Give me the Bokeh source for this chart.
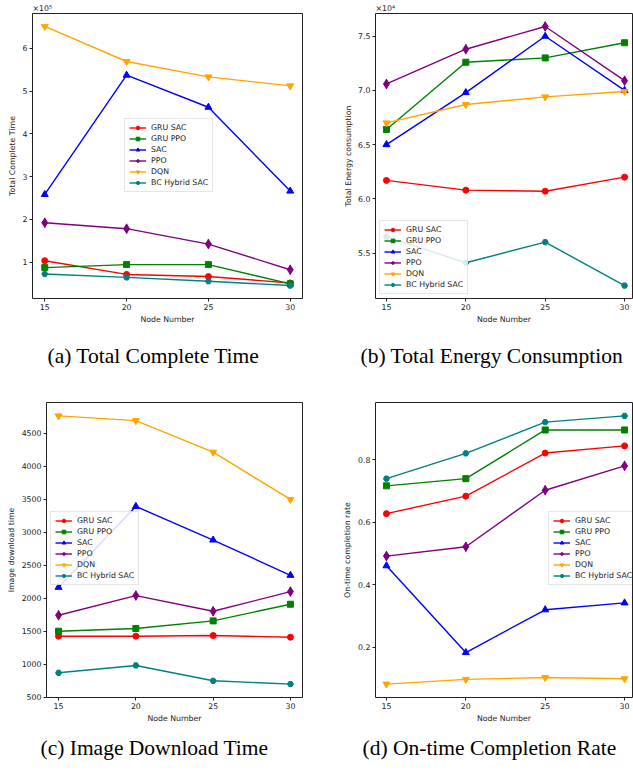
import math
from bokeh.plotting import figure
from bokeh.layouts import column, row
from bokeh.models import Range1d, FixedTicker, CustomJSTickFormatter, Legend, LegendItem, Title
from bokeh.embed import file_html
from bokeh.resources import INLINE

# ---------------- data ----------------
node_numbers = [15, 20, 25, 30]
x_tick_values = [15, 20, 25, 30]
series_names = ["GRU SAC", "GRU PPO", "SAC", "PPO", "DQN", "BC Hybrid SAC"]

# (a) Total Complete Time
complete_gru_sac = [103000, 71000, 66000, 51000]
complete_gru_ppo = [87000, 94000, 94000, 49000]
complete_sac = [258000, 537000, 462000, 266000]
complete_ppo = [192000, 178000, 142000, 82000]
complete_dqn = [651000, 569000, 533000, 512000]
complete_bc_hybrid_sac = [72000, 64000, 55000, 45000]
complete_y_ticks = [100000, 200000, 300000, 400000, 500000, 600000]

# (b) Total Energy Consumption
energy_gru_sac = [61700, 60800, 60700, 62000]
energy_gru_ppo = [66400, 72600, 73000, 74400]
energy_sac = [65000, 69800, 75000, 70000]
energy_ppo = [70600, 73800, 75900, 70900]
energy_dqn = [67000, 68700, 69400, 69900]
energy_bc_hybrid_sac = [56500, 54100, 56000, 52000]
energy_y_ticks = [55000, 60000, 65000, 70000, 75000]

# (c) Image Download Time
download_gru_sac = [1427, 1427, 1437, 1412]
download_gru_ppo = [1503, 1543, 1659, 1911]
download_sac = [2167, 3392, 2883, 2349]
download_ppo = [1744, 2042, 1805, 2102]
download_dqn = [4762, 4691, 4213, 3497]
download_bc_hybrid_sac = [873, 984, 752, 702]
download_y_ticks = [500, 1000, 1500, 2000, 2500, 3000, 3500, 4000, 4500]

# (d) On-time Completion Rate
ontime_gru_sac = [0.628, 0.684, 0.822, 0.845]
ontime_gru_ppo = [0.717, 0.740, 0.896, 0.896]
ontime_sac = [0.461, 0.183, 0.320, 0.342]
ontime_ppo = [0.492, 0.522, 0.703, 0.781]
ontime_dqn = [0.082, 0.097, 0.103, 0.099]
ontime_bc_hybrid_sac = [0.740, 0.821, 0.921, 0.941]
ontime_y_ticks = [0.2, 0.4, 0.6, 0.8]

# ---------------- style ----------------
COLORS = ["red", "green", "blue", "purple", "orange", "teal"]
MARKERS = ["circle", "square", "triangle", "diamond", "inverted_triangle", "hex"]
MSIZES = [6, 6, 7, 9, 7, 6]
FONT = "DejaVu Sans"
FS = "7.8px"


def make_panel(series, y_rng, y_ticks, y_code, y_label, x_rng, dims, borders,
               legend_loc, caption, caption_offset, caption_standoff, offset_text, ylab_standoff):
    w, h = dims
    l, r, t, b = borders
    p = figure(width=w, height=h, output_backend="svg", toolbar_location=None,
               title=None, x_range=Range1d(*x_rng), y_range=Range1d(*y_rng),
               min_border_left=l, min_border_right=r,
               min_border_top=t, min_border_bottom=b)
    p.grid.visible = False
    p.outline_line_color = "#222222"
    p.outline_line_width = 1
    p.background_fill_color = "white"
    p.border_fill_color = "white"
    for ax in (p.xaxis[0], p.yaxis[0]):
        ax.axis_line_color = None
        ax.major_tick_line_color = "#222222"
        ax.major_tick_out = 3
        ax.major_tick_in = 0
        ax.minor_tick_line_color = None
        ax.major_label_text_font = FONT
        ax.major_label_text_font_size = FS
        ax.major_label_text_color = "#222222"
        ax.axis_label_text_font = FONT
        ax.axis_label_text_font_size = FS
        ax.axis_label_text_font_style = "normal"
        ax.axis_label_text_color = "#222222"
        ax.major_label_standoff = 2
    p.xaxis[0].ticker = FixedTicker(ticks=x_tick_values)
    p.xaxis[0].axis_label = "Node Number"
    p.xaxis[0].axis_label_standoff = 2
    p.yaxis[0].ticker = FixedTicker(ticks=y_ticks)
    if y_code:
        p.yaxis[0].formatter = CustomJSTickFormatter(code=y_code)
    p.yaxis[0].axis_label = y_label
    p.yaxis[0].axis_label_standoff = ylab_standoff

    items = []
    for name, vals, c, m, s in zip(series_names, series, COLORS, MARKERS, MSIZES):
        rl = p.line(node_numbers, vals, line_color=c, line_width=1.4)
        rs = p.scatter(node_numbers, vals, marker=m, size=s, fill_color=c, line_color=c)
        rends = [rl, rs]
        if m == "diamond":
            rd = p.scatter(node_numbers, vals, marker="dash", size=10, angle=math.pi / 2,
                           line_color=c, line_width=1.3)
            rends.append(rd)
        items.append(LegendItem(label=name, renderers=rends))

    legend = Legend(items=items, location=legend_loc, label_text_font=FONT,
                    label_text_font_size=FS, label_text_color="#222222",
                    glyph_width=17, glyph_height=9, label_height=9,
                    label_standoff=5, spacing=2, padding=4, margin=0,
                    border_line_color="#cccccc", border_line_width=1,
                    background_fill_color="white", background_fill_alpha=0.85)
    p.add_layout(legend)

    p.add_layout(Title(text=caption, align="left", offset=caption_offset,
                       standoff=caption_standoff, vertical_align="top",
                       text_font="Liberation Serif", text_font_size="21.5px",
                       text_font_style="normal", text_color="black"), "below")
    if offset_text:
        p.add_layout(Title(text=offset_text, align="left", offset=0, standoff=2,
                           text_font=FONT, text_font_size=FS, text_font_style="normal",
                           text_color="#222222"), "above")
    return p


pa = make_panel(
    [complete_gru_sac, complete_gru_ppo, complete_sac, complete_ppo, complete_dqn, complete_bc_hybrid_sac],
    (14700, 681300), complete_y_ticks, "return (tick/1e5).toFixed(0);", "Total Complete Time",
    (14.25, 30.75), (316, 386), (32, 14, 13, 88), (92, 106),
    "(a) Total Complete Time", 15, 34, "\u00d710\u2075", 3)

pb = make_panel(
    [energy_gru_sac, energy_gru_ppo, energy_sac, energy_ppo, energy_dqn, energy_bc_hybrid_sac],
    (50805, 77095), energy_y_ticks, "return (tick/1e4).toFixed(1);", "Total Energy consumption",
    (14.31, 30.5), (317, 386), (59, 1, 13, 88), (4, 4),
    "(b) Total Energy Consumption", -15, 34, "\u00d710\u2074", 2)

pc = make_panel(
    [download_gru_sac, download_gru_ppo, download_sac, download_ppo, download_dqn, download_bc_hybrid_sac],
    (499, 4965), download_y_ticks, None, "Image download time",
    (14.22, 30.78), (316, 386), (46, 14, 16, 75), (4, 112),
    "(c) Image Download Time", -6, 21, None, 3)

pd_ = make_panel(
    [ontime_gru_sac, ontime_gru_ppo, ontime_sac, ontime_ppo, ontime_dqn, ontime_bc_hybrid_sac],
    (0.039, 0.984), ontime_y_ticks, "return tick.toFixed(1);", "On-time completion rate",
    (14.31, 30.5), (317, 386), (59, 1, 15, 75), (173, 112),
    "(d) On-time Completion Rate", -13, 21, None, 3)

layout = column(row(pa, pb), row(pc, pd_))

open("out.html", "w").write(file_html(layout, INLINE))
